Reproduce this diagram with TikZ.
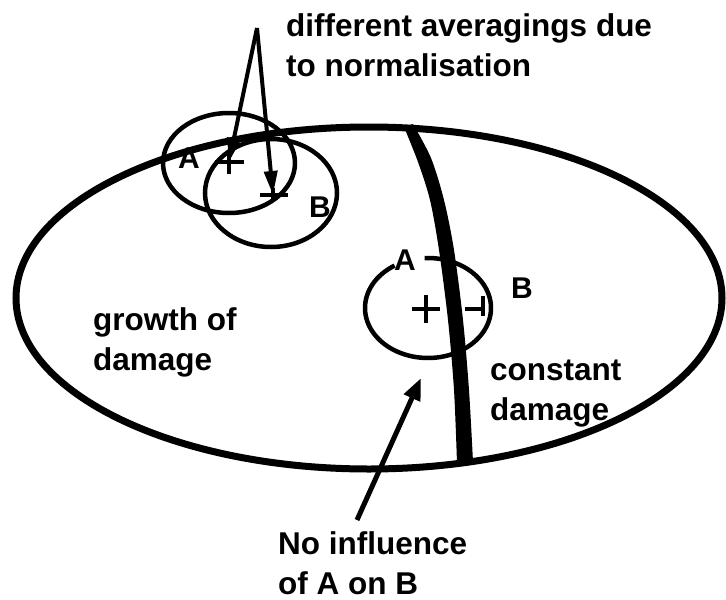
\documentclass[tikz,border=0pt]{standalone}
\usepackage{fontspec}
\setmainfont{Liberation Sans}
\usetikzlibrary{arrows.meta}
\begin{document}
\begin{tikzpicture}[x=1pt,y=-1pt,
  lbl/.style={inner sep=0pt, font=\fontsize{31.5}{40}\selectfont\bfseries, align=left, anchor=base west},
  letter/.style={inner sep=0pt, font=\fontsize{30}{38}\selectfont\bfseries},
  thinline/.style={line width=4.5pt},
  arr/.style={line width=4pt, -{Triangle[length=24pt,width=13pt]}},
  bigarr/.style={line width=5pt, -{Triangle[length=22pt,width=17pt]}},
]
\useasboundingbox (0,0) rectangle (726,600);
% big ellipse
\draw[line width=7pt] (369,298) ellipse [x radius=353, y radius=171];
% thick boundary line
\fill plot[smooth] coordinates {(404,127) (418,162) (430,200) (439,250) (448,320) (454,390) (457,463)}
  -- plot[smooth] coordinates {(473,462) (469,390) (463,320) (454,250) (444,200) (431,158) (413,124)} -- cycle;
% top-left circles
\draw[thinline] (229,163) ellipse [x radius=66, y radius=50];
\draw[thinline] (271,193) ellipse [x radius=66, y radius=54];
\coordinate (pa) at (229,162);
\coordinate (pb) at (273,195);
\draw[thinline] (215,162) -- (244,162) (229,150) -- (229,174);
\draw[thinline] (260,195) -- (288,195) (273,188) -- (273,200);
\node[letter] (la1) at (189,158) {A};
\node[letter] (lb1) at (320,207) {B};
% annotation
\node[lbl] (diff) at (286,76) {different averagings due\\to normalisation};
\coordinate (apex) at (257,28);
\draw[arr] (apex) -- (pa);
\draw[arr] (apex) -- (pb);
% middle circle
\draw[thinline] plot[domain=267:598, samples=90] ({428+63*cos(\x)},{308+50*sin(\x)});
\draw[thinline] (412,309) -- (440,309) (426,295) -- (426,323);
\draw[thinline] (465,309) -- (485,309) (483,296) -- (483,316);
\node[letter] (la2) at (405,260) {A};
\node[letter] (lb2) at (522,288) {B};
% region labels
\node[lbl] (growth) at (93,370) {growth of\\damage};
\node[lbl] (const) at (490,420) {constant\\damage};
\node[lbl, text depth=0pt] (noinf) at (278,594) {No influence\\of A on B};
\coordinate (tail) at (357,520);
\coordinate (tip) at (421,378);
\draw[bigarr] (tail) -- (tip);
\end{tikzpicture}
\end{document}
